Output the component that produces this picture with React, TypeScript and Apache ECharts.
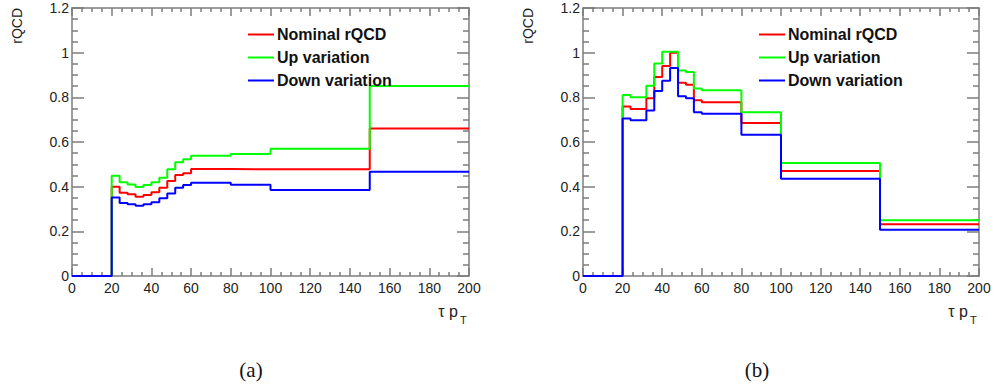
import React, { useEffect, useRef } from "react";
import * as echarts from "echarts";

// Bin edges (tau pT) and per-bin rQCD values for panel (a)
const edgesA = [0, 20, 24, 28, 32, 36, 40, 44, 48, 52, 56, 60, 80, 100, 150, 200];
const nominalA = [0, 0.400, 0.373, 0.366, 0.355, 0.363, 0.375, 0.395, 0.425, 0.452, 0.460, 0.479, 0.478, 0.478, 0.661];
const upA = [0, 0.449, 0.420, 0.410, 0.399, 0.407, 0.420, 0.440, 0.478, 0.509, 0.523, 0.538, 0.546, 0.570, 0.851];
const downA = [0, 0.351, 0.327, 0.321, 0.315, 0.321, 0.330, 0.348, 0.369, 0.395, 0.407, 0.418, 0.409, 0.385, 0.467];

// Bin edges and per-bin rQCD values for panel (b)
const edgesB = [0, 20, 24, 32, 36, 40, 44, 48, 52, 56, 60, 80, 100, 150, 200];
const nominalB = [0, 0.759, 0.748, 0.796, 0.891, 0.940, 1.000, 0.865, 0.856, 0.787, 0.778, 0.685, 0.470, 0.232];
const upB = [0, 0.810, 0.800, 0.852, 0.952, 1.004, 1.004, 0.920, 0.913, 0.840, 0.832, 0.733, 0.506, 0.250];
const downB = [0, 0.705, 0.697, 0.741, 0.828, 0.874, 0.931, 0.805, 0.796, 0.733, 0.726, 0.633, 0.435, 0.207];

const seriesNames = ["Nominal rQCD", "Up variation", "Down variation"];
const seriesColors = ["#ff0000", "#00ff00", "#0000ff"];
const xTicks = { min: 0, max: 200, interval: 20 };
const yTicks = { min: 0, max: 1.2, interval: 0.2 };

// Histogram outline: one point per low bin edge plus the final upper edge
function histPoints(edges: number[], values: number[]) {
  return edges.map((e, i) => [e, values[Math.min(i, values.length - 1)]]);
}

const FRAME = "#7d7d7d";
const SANS = "Liberation Sans, Arial, Helvetica, sans-serif";

function frameAxis(kind: "x" | "y", side: "main" | "mirror", gridIndex: number, tickLen: number) {
  const range = kind === "x" ? xTicks : yTicks;
  return {
    type: "value",
    gridIndex,
    position: kind === "x" ? (side === "main" ? "bottom" : "top") : side === "main" ? "left" : "right",
    min: range.min,
    max: range.max,
    interval: range.interval,
    axisLine: { show: true, onZero: false, lineStyle: { color: FRAME, width: 1.5 } },
    axisTick: { show: true, inside: true, length: tickLen, lineStyle: { color: FRAME, width: 1.5 } },
    minorTick: { show: true, splitNumber: 4, length: tickLen / 2, lineStyle: { color: FRAME, width: 1.5 } },
    splitLine: { show: false },
    minorSplitLine: { show: false },
    axisLabel: {
      show: side === "main",
      color: "#222",
      fontSize: 14,
      fontFamily: SANS,
      margin: kind === "x" ? 5 : 3,
    },
  };
}

function panelSeries(edges: number[], sets: number[][], axisIndex: number) {
  return sets.map((vals, k) => ({
    name: seriesNames[k],
    type: "line",
    step: "end",
    xAxisIndex: axisIndex,
    yAxisIndex: axisIndex,
    data: histPoints(edges, vals),
    showSymbol: false,
    symbol: "none",
    color: seriesColors[k],
    lineStyle: { color: seriesColors[k], width: 2 },
    z: 2 + k,
  }));
}

function panelTexts(plotLeft: number, plotRight: number, caption: string, captionX: number) {
  return [
    {
      type: "text",
      x: plotLeft - 55,
      y: 8,
      rotation: Math.PI / 2,
      style: { text: "rQCD", fill: "#222", font: `14px ${SANS}`, align: "right", verticalAlign: "middle" },
    },
    {
      type: "text",
      x: plotRight - 11,
      y: 311,
      style: { text: "τ p", fill: "#222", font: `16px ${SANS}`, align: "right", verticalAlign: "middle" },
    },
    {
      type: "text",
      x: plotRight - 9,
      y: 320,
      style: { text: "T", fill: "#222", font: `11px ${SANS}`, align: "left", verticalAlign: "middle" },
    },
    {
      type: "text",
      x: captionX,
      y: 370,
      style: {
        text: caption,
        fill: "#111",
        font: `21px "Liberation Serif", "DejaVu Serif", serif`,
        align: "center",
        verticalAlign: "middle",
      },
    },
  ];
}

function legendAt(left: number) {
  return {
    left,
    top: 23,
    padding: 0,
    orient: "vertical",
    data: seriesNames,
    icon: "rect",
    itemWidth: 26,
    itemHeight: 2,
    itemGap: 0,
    selectedMode: false,
    textStyle: { fontSize: 16, fontWeight: "bold", fontFamily: SANS, color: "#111", lineHeight: 23, padding: [0, 0, 0, -2] },
  };
}

export default function App() {
  const ref = useRef<HTMLDivElement>(null);

  useEffect(() => {
    if (!ref.current) return;
    const chart = echarts.init(ref.current, undefined, { renderer: "svg" });
    chart.setOption({
      animation: false,
      backgroundColor: "#ffffff",
      grid: [
        { left: 72, top: 8, width: 397, height: 268 },
        { left: 583, top: 8, width: 396, height: 268 },
      ],
      xAxis: [
        frameAxis("x", "main", 0, 8),
        frameAxis("x", "mirror", 0, 8),
        frameAxis("x", "main", 1, 8),
        frameAxis("x", "mirror", 1, 8),
      ],
      yAxis: [
        frameAxis("y", "main", 0, 12),
        frameAxis("y", "mirror", 0, 12),
        frameAxis("y", "main", 1, 12),
        frameAxis("y", "mirror", 1, 12),
      ],
      legend: [legendAt(248), legendAt(759)],
      series: [
        ...panelSeries(edgesA, [nominalA, upA, downA], 0),
        ...panelSeries(edgesB, [nominalB, upB, downB], 2),
      ],
      graphic: [...panelTexts(72, 469, "(a)", 251), ...panelTexts(583, 979, "(b)", 757)],
    });
    return () => chart.dispose();
  }, []);

  return (
    <div
      ref={ref}
      style={{ position: "fixed", left: 0, top: 0, width: 994, height: 388, background: "#fff" }}
    />
  );
}
